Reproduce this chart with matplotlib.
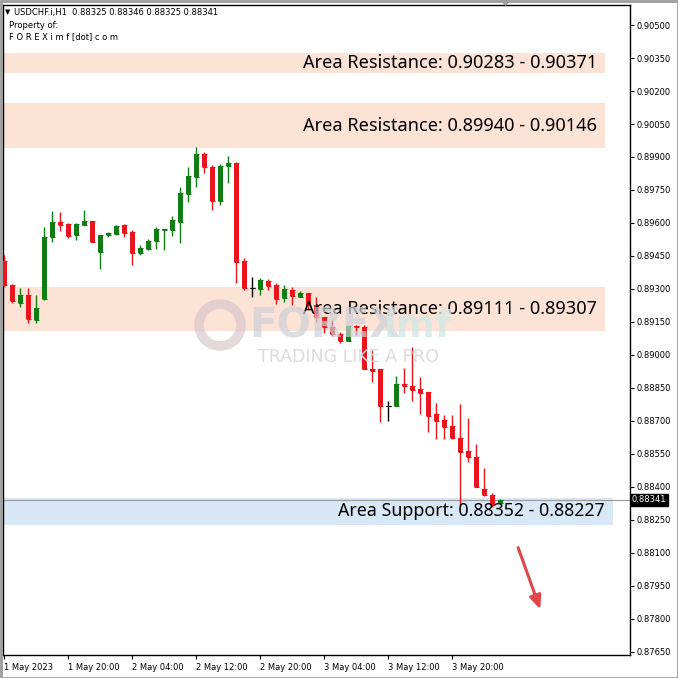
import matplotlib
matplotlib.use('Agg')
import matplotlib.pyplot as plt
import matplotlib.patches as patches
import numpy as np

# USDCHF H1 candles, oldest first
opens = [0.89427, 0.89318, 0.89238, 0.89273, 0.89159, 0.89255, 0.89536, 0.89605, 0.89595, 0.89545,
         0.89591, 0.89609, 0.89468, 0.89545, 0.89550, 0.89591, 0.89559, 0.89464, 0.89482, 0.89518,
         0.89570, 0.89568, 0.89605, 0.89732, 0.89809, 0.89914, 0.89855, 0.89700, 0.89859, 0.89873,
         0.89427, 0.89305, 0.89300, 0.89336, 0.89318, 0.89259, 0.89295, 0.89264, 0.89282, 0.89227,
         0.89173, 0.89127, 0.89095, 0.89064, 0.89132, 0.89127, 0.88936, 0.88936, 0.88768, 0.88768,
         0.88868, 0.88859, 0.88845, 0.88832, 0.88732, 0.88705, 0.88677, 0.88623, 0.88564, 0.88536,
         0.88391, 0.88364, 0.88325]
highs = [0.89455, 0.89323, 0.89305, 0.89305, 0.89273, 0.89582, 0.89655, 0.89650, 0.89600, 0.89600,
         0.89659, 0.89609, 0.89545, 0.89559, 0.89591, 0.89595, 0.89568, 0.89500, 0.89527, 0.89582,
         0.89573, 0.89632, 0.89764, 0.89855, 0.89945, 0.89923, 0.89864, 0.89868, 0.89905, 0.89877,
         0.89441, 0.89355, 0.89350, 0.89345, 0.89327, 0.89318, 0.89309, 0.89291, 0.89282, 0.89264,
         0.89173, 0.89159, 0.89105, 0.89136, 0.89136, 0.89136, 0.89023, 0.88936, 0.88791, 0.88905,
         0.88941, 0.89036, 0.88900, 0.88832, 0.88782, 0.88727, 0.88727, 0.88777, 0.88714, 0.88595,
         0.88486, 0.88373, 0.88346]
lows = [0.89309, 0.89236, 0.89218, 0.89145, 0.89145, 0.89250, 0.89514, 0.89564, 0.89532, 0.89523,
        0.89591, 0.89514, 0.89391, 0.89536, 0.89545, 0.89536, 0.89409, 0.89455, 0.89477, 0.89482,
        0.89477, 0.89541, 0.89509, 0.89695, 0.89764, 0.89827, 0.89659, 0.89682, 0.89782, 0.89327,
        0.89295, 0.89264, 0.89273, 0.89295, 0.89232, 0.89241, 0.89227, 0.89264, 0.89209, 0.89150,
        0.89100, 0.89086, 0.89055, 0.89064, 0.89091, 0.88936, 0.88877, 0.88695, 0.88700, 0.88768,
        0.88827, 0.88791, 0.88732, 0.88650, 0.88618, 0.88618, 0.88618, 0.88314, 0.88514, 0.88400,
        0.88359, 0.88309, 0.88325]
closes = [0.89318, 0.89245, 0.89273, 0.89164, 0.89214, 0.89536, 0.89605, 0.89591, 0.89541, 0.89595,
          0.89609, 0.89514, 0.89545, 0.89555, 0.89586, 0.89555, 0.89464, 0.89486, 0.89518, 0.89573,
          0.89573, 0.89614, 0.89736, 0.89814, 0.89914, 0.89855, 0.89700, 0.89859, 0.89873, 0.89423,
          0.89305, 0.89305, 0.89341, 0.89314, 0.89255, 0.89300, 0.89268, 0.89282, 0.89227, 0.89173,
          0.89127, 0.89095, 0.89064, 0.89132, 0.89125, 0.88936, 0.88927, 0.88768, 0.88768, 0.88868,
          0.88859, 0.88841, 0.88827, 0.88723, 0.88700, 0.88673, 0.88623, 0.88559, 0.88536, 0.88400,
          0.88364, 0.88318, 0.88341]

tick_bars = [0, 8, 16, 24, 32, 40, 48, 56]
tick_labels = ['1 May 2023', '1 May 20:00', '2 May 04:00', '2 May 12:00',
               '2 May 20:00', '3 May 04:00', '3 May 12:00', '3 May 20:00']
price_ticks = [0.87650, 0.87800, 0.87950, 0.88100, 0.88250, 0.88400, 0.88550, 0.88700,
               0.88850, 0.89000, 0.89150, 0.89300, 0.89450, 0.89600, 0.89750, 0.89900,
               0.90050, 0.90200, 0.90350, 0.90500]

res_low = [0.90283, 0.89940, 0.89111]
res_high = [0.90371, 0.90146, 0.89307]
sup_low = 0.88227
sup_high = 0.88352
last_price = 0.88341

GREEN = '#0f7d13'
RED = '#e8161c'
PEACH = '#fce3d6'
BLUE = '#d9e8f7'

W, H = 678, 678
fig = plt.figure(figsize=(W / 100, H / 100), dpi=100)
fig.patch.set_facecolor('white')

# plot area in pixels: left 3, right 630, top 5, bottom 655
ax = fig.add_axes([3 / W, (H - 655) / H, 627 / W, 650 / H])
ax.set_xlim(-0.16, 78.2)
ax.set_ylim(0.87636, 0.90591)

# zones
for lo, hi in zip(res_low, res_high):
    ax.axhspan(lo, hi, xmin=0, xmax=0.96, color=PEACH, lw=0, zorder=0)
    ax.text(0.947, (lo + hi) / 2, 'Area Resistance: %.5f - %.5f' % (lo, hi),
            transform=ax.get_yaxis_transform(), ha='right', va='center',
            fontsize=13.1, family='Noto Sans', zorder=5)
ax.axhspan(sup_low, sup_high, xmin=0, xmax=0.973, color=BLUE, lw=0, zorder=0)
ax.text(0.96, (sup_low + sup_high) / 2, 'Area Support: %.5f - %.5f' % (sup_high, sup_low),
        transform=ax.get_yaxis_transform(), ha='right', va='center',
        fontsize=12.8, family='Noto Sans', zorder=5)

# watermark
fig.patches.append(patches.Circle((220, H - 325), 21, transform=None, facecolor='none',
                                  edgecolor='#d9c9cc', lw=7, alpha=0.7, zorder=1))
fig.text(249 / W, (H - 327) / H, 'FOREX', fontsize=29, fontweight='bold', color='#cdd0d8',
         va='center', ha='left', family='DejaVu Sans', alpha=0.7, zorder=1)
fig.text(384 / W, (H - 327) / H, 'imf', fontsize=27, fontweight='bold', color='#d3e8e6',
         va='center', ha='left', family='DejaVu Sans', alpha=0.8, zorder=1)
fig.text(258 / W, (H - 357) / H, 'TRADING LIKE A PRO', fontsize=12.5,
         color='#dcdcdf', va='center', ha='left', family='DejaVu Sans', zorder=1)

# candles
for i in range(len(opens)):
    o, h, l, c = opens[i], highs[i], lows[i], closes[i]
    if c > o:
        col = GREEN
    elif c < o:
        col = RED
    else:
        col = 'black'
    ax.vlines(i, l, h, color=col, lw=1, zorder=3)
    ax.bar(i, abs(c - o), bottom=min(o, c), width=0.62, color=col, lw=0, zorder=3)
    ax.hlines([o, c], i - 0.31, i + 0.31, color=col, lw=0.8, zorder=3)

# last price line
ax.axhline(last_price, color='#9a9a9a', lw=0.8, zorder=2)

# arrow
ax.annotate('', xy=(67.1, 0.87832), xytext=(64.1, 0.88136),
            arrowprops=dict(arrowstyle='-|>,head_length=0.8,head_width=0.35',
                            color='#e0474a', lw=2.2), zorder=6)

# axes styling
for s in ax.spines.values():
    s.set_color('black')
    s.set_linewidth(1)
ax.yaxis.tick_right()
ax.set_yticks(price_ticks)
ax.set_yticklabels(['%.5f' % p for p in price_ticks], fontsize=6)
ax.set_xticks(tick_bars)
ax.set_xticklabels(tick_labels, fontsize=6, ha='left')
ax.tick_params(axis='y', direction='out', length=3, width=0.8, pad=2)
ax.tick_params(axis='x', direction='out', length=3, width=0.8, pad=3)

# current price label
ax.text(1.003, last_price, '%.5f' % last_price, transform=ax.get_yaxis_transform(),
        fontsize=6, color='white', va='center', ha='left',
        bbox=dict(boxstyle='square,pad=0.15', fc='black', ec='black'), zorder=7)

# header
fig.text(5 / W, (H - 12) / H, '\u25bc', fontsize=5, va='center', ha='left')
fig.text(14 / W, (H - 12) / H, 'USDCHF.i,H1  0.88325 0.88346 0.88325 0.88341', fontsize=6,
         va='center', ha='left')
fig.text(9 / W, (H - 25) / H, 'Property of:', fontsize=6, va='center', ha='left')
fig.text(9 / W, (H - 37) / H, 'F O R E X i m f [dot] c o m', fontsize=6, va='center', ha='left')

# window frame
fig.patches.append(patches.Rectangle((0.5, 0.5), W - 1, H - 1, transform=None, fill=False,
                                     edgecolor='#9c9c9c', lw=2, zorder=10))
fig.patches.append(patches.Polygon([(500, H), (511, H), (505.5, H - 6)], closed=True,
                                   transform=None, facecolor='#9c9c9c', edgecolor='none', zorder=10))

fig.savefig('out.png', dpi=100)
